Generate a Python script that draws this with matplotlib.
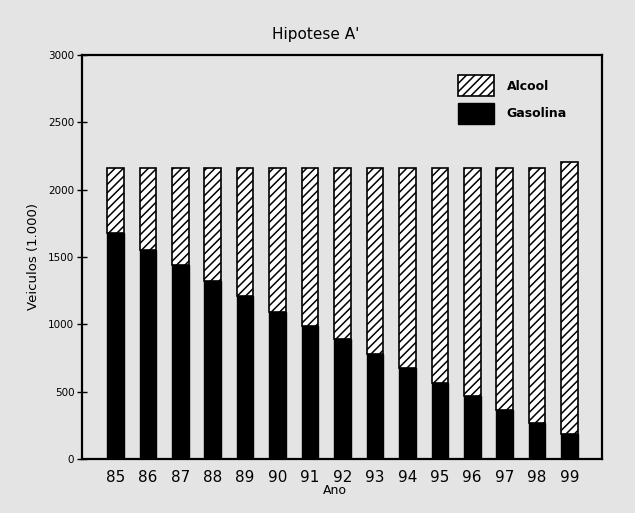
import numpy as np
import matplotlib.pyplot as plt

# Frota de veiculos (1.000) por ano - Hipotese A'
anos = ["85", "86", "87", "88", "89", "90", "91", "92",
        "93", "94", "95", "96", "97", "98", "99"]
gasolina = [1676, 1553, 1442, 1323, 1211, 1095, 984, 888,
            781, 679, 568, 469, 365, 266, 184]
total = [2158, 2158, 2158, 2158, 2158, 2158, 2158, 2158,
         2158, 2158, 2158, 2158, 2158, 2158, 2203]
alcool = [t - g for t, g in zip(total, gasolina)]

plt.rcParams['hatch.linewidth'] = 1.1
plt.rcParams['font.family'] = ['DejaVu Sans']

bg = '#e4e4e4'
fig = plt.figure(figsize=(6.35, 5.13), dpi=100, facecolor=bg)
ax = fig.add_axes([82 / 635, 54 / 513, 520 / 635, 404 / 513], facecolor=bg)

x = np.arange(len(anos))
w = 0.51
ax.bar(x, gasolina, w, color='black', edgecolor='black', linewidth=1.0,
       label='Gasolina')
ax.bar(x, alcool, w, bottom=gasolina, color='white', edgecolor='black',
       hatch='////', linewidth=1.2, label='Alcool')

ax.set_xlim(-1.03, 15.0)
ax.set_ylim(0, 3000)
ax.set_yticks(np.arange(0, 3001, 500))
ax.set_xticks(x)
ax.set_xticklabels(anos, fontsize=11)
ax.tick_params(axis='x', length=0, pad=8)
ax.tick_params(axis='y', direction='inout', length=7, width=1,
               labelsize=7.5, pad=2)
for s in ax.spines.values():
    s.set_linewidth(1.6)

ax.set_ylabel("Veiculos (1.000)", fontsize=9.5, labelpad=6)

handles, labels = ax.get_legend_handles_labels()
leg = ax.legend(handles[::-1], labels[::-1], loc='upper left',
                bbox_to_anchor=(0.723, 0.95), frameon=False, fontsize=9,
                handlelength=2.9, handleheight=2.2, labelspacing=0.55,
                handletextpad=1.0, borderpad=0, borderaxespad=0)
for t in leg.get_texts():
    t.set_fontweight('bold')

fig.text(0.497, 1 - 35 / 513, "Hipotese A'", ha='center', va='center',
         fontsize=11)
fig.text(335 / 635, 1 - 490 / 513, "Ano", ha='center', va='center',
         fontsize=9)

fig.savefig("out.png", dpi=100, facecolor=bg)
